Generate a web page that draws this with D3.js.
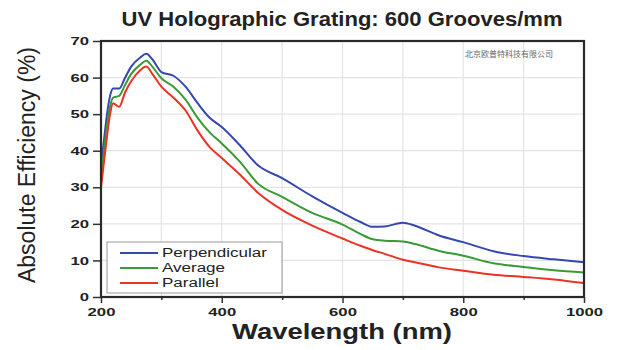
<!DOCTYPE html>
<html>
<head>
<meta charset="UTF-8">
<title>UV Holographic Grating</title>
<script src="https://cdn.jsdelivr.net/npm/d3@7"></script>
<style>
body { margin: 0; background: #fff; }
.grid line { stroke: #e4e4e4; stroke-width: 1.2; }
.tick text { font-family: "Liberation Sans", Arial, sans-serif; font-weight: bold; font-size: 11.5px; fill: #222; }
</style>
</head>
<body>
<div id="chart"></div>
<script>
// wavelength sample points (nm)
var wavelengths = [200, 205, 210, 215, 220, 230, 240, 250, 265, 275, 285, 300, 320, 340, 360, 380, 400, 430, 460, 500, 550, 600, 630, 650, 670, 700, 720, 760, 800, 850, 900, 950, 1000];

var perpendicular = [36, 43, 50, 55, 57, 57, 60, 63, 65.5, 66.5, 65, 61.5, 60.5, 57.5, 53, 49, 46.5, 41.5, 36, 32.5, 27.5, 23, 20.5, 19.2, 19.3, 20.3, 19.5, 16.8, 15, 12.5, 11.2, 10.3, 9.5];
var average = [33, 40, 47, 52, 54.5, 55, 58, 61, 63.5, 64.6, 63, 59.8, 57.5, 54, 49, 45, 42, 37, 31, 27.4, 23, 19.8, 17.2, 15.8, 15.4, 15.2, 14.5, 12.6, 11.3, 9.2, 8.2, 7.3, 6.7];
var parallel = [30, 37, 44, 50, 53, 52, 56, 59, 62, 63, 61, 57.5, 54.5, 51, 45.5, 41, 38, 33.5, 28.5, 23.8, 19.5, 16, 14, 12.8, 11.8, 10.2, 9.5, 8.1, 7.2, 6.1, 5.5, 4.8, 3.8];

var seriesNames = ["Perpendicular", "Average", "Parallel"];
var seriesColors = ["#3548b0", "#3a9a35", "#ec3223"];

var xTicks = [200, 400, 600, 800, 1000];
var xMinorTicks = [300, 500, 700, 900];
var yTicks = [0, 10, 20, 30, 40, 50, 60, 70];

var W = 620, H = 350;
var margin = {left: 101, right: 36, top: 41, bottom: 53};

var svg = d3.select("#chart").append("svg")
  .attr("width", W)
  .attr("height", H);

var x = d3.scaleLinear().domain([200, 1000]).range([margin.left, W - margin.right]);
var y = d3.scaleLinear().domain([0, 70]).range([H - margin.bottom, margin.top]);

// the original artwork is stretched sideways, so widen text to match
function stretch(sel, k) {
  sel.each(function() {
    var len = this.getComputedTextLength();
    d3.select(this).attr("textLength", len * k).attr("lengthAdjust", "spacingAndGlyphs");
  });
}

// grid
var grid = svg.append("g").attr("class", "grid");
grid.selectAll(".gx").data(xTicks.concat(xMinorTicks).filter(function(d){ return d > 200 && d < 1000; }))
  .enter().append("line")
  .attr("x1", function(d){ return x(d); }).attr("x2", function(d){ return x(d); })
  .attr("y1", y(0)).attr("y2", y(70));
grid.selectAll(".gy").data(yTicks.filter(function(d){ return d > 0 && d < 70; }))
  .enter().append("line")
  .attr("y1", function(d){ return y(d); }).attr("y2", function(d){ return y(d); })
  .attr("x1", x(200)).attr("x2", x(1000));

// lines
var series = [perpendicular, average, parallel];
var line = d3.line()
  .x(function(d, i){ return x(wavelengths[i]); })
  .y(function(d){ return y(d); })
  .curve(d3.curveMonotoneX);

svg.selectAll(".series").data(series).enter().append("path")
  .attr("fill", "none")
  .attr("stroke", function(d, i){ return seriesColors[i]; })
  .attr("stroke-width", 2)
  .attr("d", line);

// axes
var xAxis = svg.append("g")
  .attr("transform", "translate(0," + y(0) + ")")
  .call(d3.axisBottom(x).tickValues(xTicks).tickSize(6).tickPadding(5).tickFormat(d3.format("d")))
  .call(function(g){ g.select(".domain").remove(); g.selectAll("line").attr("stroke", "#333").attr("stroke-width", 1.5); });

svg.append("g")
  .attr("transform", "translate(0," + y(0) + ")")
  .call(d3.axisBottom(x).tickValues(xMinorTicks).tickSize(3).tickFormat(""))
  .call(function(g){ g.select(".domain").remove(); g.selectAll("line").attr("stroke", "#333").attr("stroke-width", 1.5); });

var yAxis = svg.append("g")
  .attr("transform", "translate(" + x(200) + ",0)")
  .call(d3.axisLeft(y).tickValues(yTicks).tickSize(8).tickPadding(4))
  .call(function(g){ g.select(".domain").remove(); g.selectAll("line").attr("stroke", "#333").attr("stroke-width", 1.5); });

stretch(xAxis.selectAll("text"), 1.45);
stretch(yAxis.selectAll("text"), 1.45);

// frame
svg.append("rect")
  .attr("x", x(200)).attr("y", y(70))
  .attr("width", x(1000) - x(200)).attr("height", y(0) - y(70))
  .attr("fill", "none").attr("stroke", "#2a2a2a").attr("stroke-width", 2.2);

// title
svg.append("text")
  .attr("x", 342).attr("y", 26)
  .attr("text-anchor", "middle")
  .style("font-family", "'Liberation Sans', Arial, sans-serif")
  .style("font-weight", "bold").style("font-size", "19.5px").attr("fill", "#222")
  .attr("textLength", 441).attr("lengthAdjust", "spacingAndGlyphs")
  .text("UV Holographic Grating: 600 Grooves/mm");

// axis titles
svg.append("text")
  .attr("x", 342).attr("y", 339)
  .attr("text-anchor", "middle")
  .style("font-family", "'Liberation Sans', Arial, sans-serif")
  .style("font-weight", "bold").style("font-size", "22px").attr("fill", "#222")
  .attr("textLength", 220).attr("lengthAdjust", "spacingAndGlyphs")
  .text("Wavelength (nm)");

svg.append("text")
  .attr("transform", "translate(35,165) rotate(-90)")
  .attr("text-anchor", "middle")
  .style("font-family", "'Liberation Sans', Arial, sans-serif")
  .style("font-size", "23px").attr("fill", "#222")
  .attr("textLength", 236).attr("lengthAdjust", "spacingAndGlyphs")
  .text("Absolute Efficiency (%)");

// company text
svg.append("text")
  .attr("x", 509).attr("y", 57)
  .attr("text-anchor", "middle")
  .style("font-family", "'Noto Sans CJK SC', sans-serif")
  .style("font-size", "8px").attr("fill", "#666")
  .text("北京欧普特科技有限公司");

// legend
var legend = svg.append("g").attr("transform", "translate(107,242)");
legend.append("rect")
  .attr("width", 175).attr("height", 51)
  .attr("fill", "#fff").attr("stroke", "#999").attr("stroke-width", 1);
var items = legend.selectAll(".item").data(seriesNames).enter().append("g")
  .attr("transform", function(d, i){ return "translate(0," + (11 + i * 15) + ")"; });
items.append("line")
  .attr("x1", 13).attr("x2", 51)
  .attr("stroke", function(d, i){ return seriesColors[i]; })
  .attr("stroke-width", 2);
var legendText = items.append("text")
  .attr("x", 55).attr("dy", "0.35em")
  .style("font-family", "'Liberation Sans', Arial, sans-serif")
  .style("font-size", "12.5px").attr("fill", "#222")
  .text(function(d){ return d; });
stretch(legendText, 1.36);
</script>
</body>
</html>
